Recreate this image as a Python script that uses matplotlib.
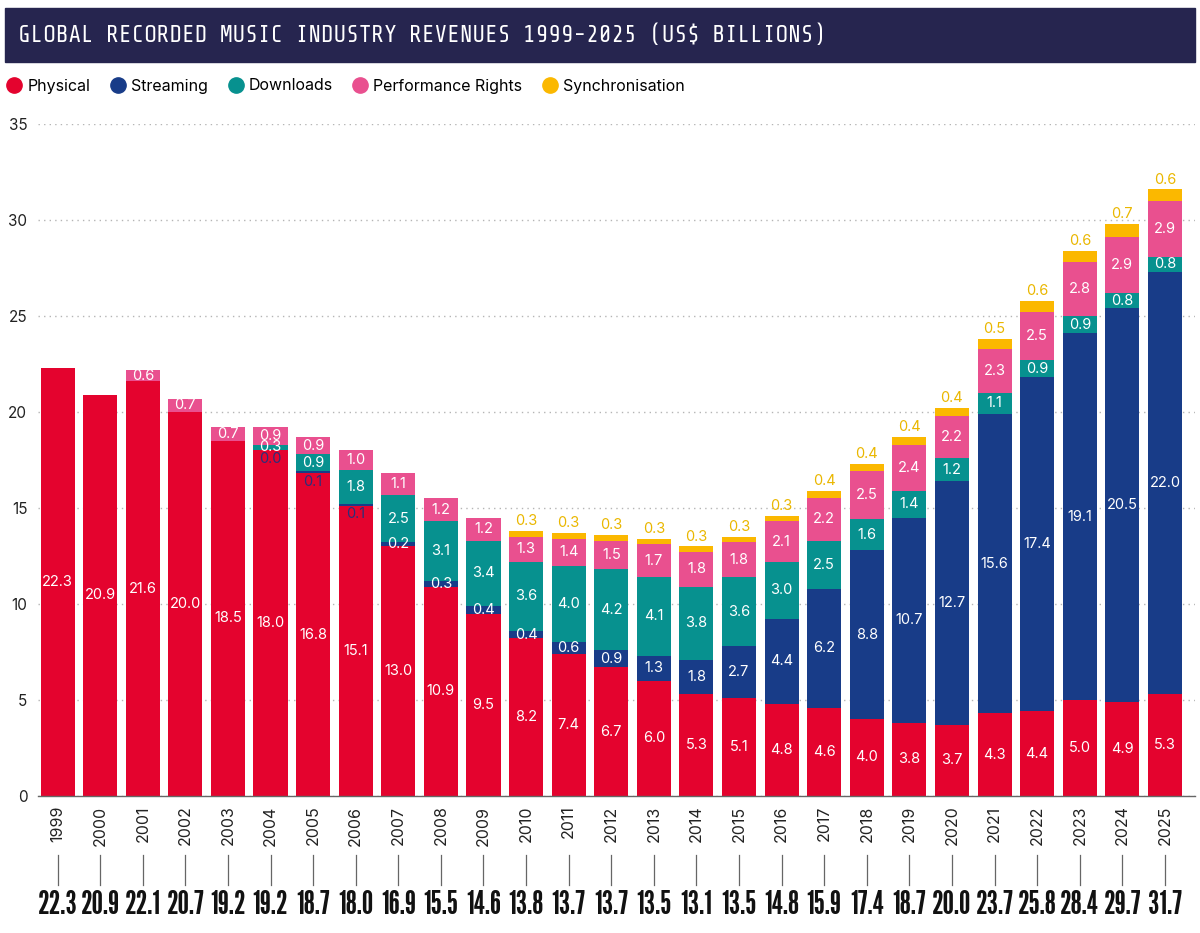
import numpy as np
import matplotlib.pyplot as plt
from matplotlib.lines import Line2D
from matplotlib.patches import Rectangle
import matplotlib.transforms as mtransforms

plt.rcParams['font.family'] = ['Inter', 'DejaVu Sans']

years = [str(y) for y in range(1999, 2026)]
physical = [22.3, 20.9, 21.6, 20.0, 18.5, 18.0, 16.8, 15.1, 13.0, 10.9, 9.5, 8.2, 7.4, 6.7,
            6.0, 5.3, 5.1, 4.8, 4.6, 4.0, 3.8, 3.7, 4.3, 4.4, 5.0, 4.9, 5.3]
streaming = [None, None, None, None, None, 0.0, 0.1, 0.1, 0.2, 0.3, 0.4, 0.4, 0.6, 0.9,
             1.3, 1.8, 2.7, 4.4, 6.2, 8.8, 10.7, 12.7, 15.6, 17.4, 19.1, 20.5, 22.0]
downloads = [None, None, None, None, None, 0.3, 0.9, 1.8, 2.5, 3.1, 3.4, 3.6, 4.0, 4.2,
             4.1, 3.8, 3.6, 3.0, 2.5, 1.6, 1.4, 1.2, 1.1, 0.9, 0.9, 0.8, 0.8]
performance = [None, None, 0.6, 0.7, 0.7, 0.9, 0.9, 1.0, 1.1, 1.2, 1.2, 1.3, 1.4, 1.5,
               1.7, 1.8, 1.8, 2.1, 2.2, 2.5, 2.4, 2.2, 2.3, 2.5, 2.8, 2.9, 2.9]
sync = [None] * 11 + [0.3, 0.3, 0.3, 0.3, 0.3, 0.3, 0.3, 0.4, 0.4, 0.4, 0.4, 0.5, 0.6,
                      0.6, 0.7, 0.6]
totals = [22.3, 20.9, 22.1, 20.7, 19.2, 19.2, 18.7, 18.0, 16.9, 15.5, 14.6, 13.8, 13.7, 13.7,
          13.5, 13.1, 13.5, 14.8, 15.9, 17.4, 18.7, 20.0, 23.7, 25.8, 28.4, 29.7, 31.7]

series = [
    ('Physical', physical, '#e4032e'),
    ('Streaming', streaming, '#183c88'),
    ('Downloads', downloads, '#07918f'),
    ('Performance Rights', performance, '#e9508f'),
    ('Synchronisation', sync, '#fbb800'),
]

fig = plt.figure(figsize=(12, 9.33), dpi=100)
ax = fig.add_axes([0.032, 0.147, 0.964, 0.72])

# title band
fig.patches.append(Rectangle((5 / 1200, 1 - 62 / 933), 1190 / 1200, 54 / 933,
                             transform=fig.transFigure, color='#26254f', zorder=0))
fig.text(18 / 1200, 1 - 35 / 933, 'GLOBAL RECORDED MUSIC INDUSTRY REVENUES 1999-2025 (US$ BILLIONS)',
         color='white', fontsize=16.8, fontweight='bold', va='center', ha='left',
         family=['Share Tech Mono', 'DejaVu Sans Mono'])

x = np.arange(len(years))
bottom = np.zeros(len(years))
for name, vals, col in series:
    v = np.array([0 if a is None else a for a in vals])
    ax.bar(x, v, 0.8, bottom=bottom, color=col, zorder=2)
    for i, a in enumerate(vals):
        if a is None:
            continue
        if name == 'Synchronisation':
            ax.annotate(f'{a:.1f}', (x[i], bottom[i] + a), xytext=(0, 2),
                        textcoords='offset points', ha='center', va='bottom',
                        color='#eab700', fontsize=10.5, zorder=3)
        elif name == 'Streaming' and a < 0.2:
            ax.annotate(f'{a:.1f}', (x[i], bottom[i]), xytext=(0, -1),
                        textcoords='offset points', ha='center', va='top',
                        color='#2a2f7a', fontsize=10.5, zorder=3)
        else:
            ax.text(x[i], bottom[i] + a / 2, f'{a:.1f}', ha='center', va='center',
                    color='white', fontsize=10.5, zorder=3)
    bottom = bottom + v

ax.set_xlim(-0.45, 26.71)
ax.set_ylim(0, 35)
ax.set_yticks(range(0, 36, 5))
ax.yaxis.grid(True, linestyle=(0, (1, 3)), color='#b5b5b5', linewidth=1)
ax.set_axisbelow(True)
for s in ['top', 'right', 'left']:
    ax.spines[s].set_visible(False)
ax.spines['bottom'].set_color('#666666')
ax.spines['bottom'].set_linewidth(1)
ax.tick_params(axis='y', length=0, pad=8, labelsize=11, labelcolor='#222222')
ax.set_xticks(x)
ax.set_xticklabels(years, rotation=90, fontsize=11.5, color='#222222')
ax.tick_params(axis='x', length=0, pad=7)

# connector lines and totals under the year labels
trans = mtransforms.blended_transform_factory(ax.transData, ax.transAxes)
for i, t in enumerate(totals):
    ax.plot([x[i], x[i]], [-0.088, -0.132], color='#666666', linewidth=0.9,
            transform=trans, clip_on=False)
    ax.text(x[i], -0.162, f'{t:.1f}', transform=trans, ha='center', va='center',
            fontsize=23, color='#111111',
            family=['League Gothic', 'Bebas Neue', 'DejaVu Sans'])

handles = [Line2D([], [], marker='o', linestyle='none', markersize=11,
                  markerfacecolor=c, markeredgecolor=c) for _, _, c in series]
fig.legend(handles, [n for n, _, _ in series], loc='center left',
           bbox_to_anchor=(-0.008, 1 - 86 / 933), ncol=5, frameon=False,
           fontsize=11.5, handletextpad=0.2, columnspacing=1.15, handlelength=1.2)

fig.savefig('out.png', dpi=100, facecolor='white')
